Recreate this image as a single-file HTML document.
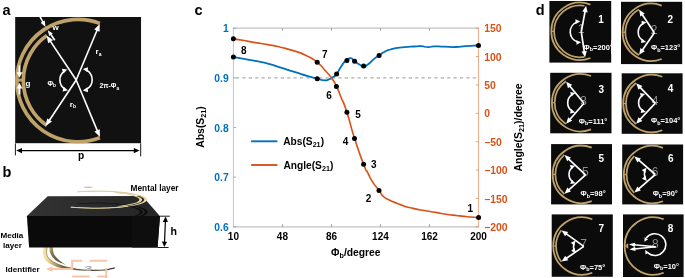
<!DOCTYPE html>
<html lang="en"><head><meta charset="utf-8"><title>Figure</title>
<style>html,body{margin:0;padding:0;background:#fff;}body{width:685px;height:278px;overflow:hidden;}svg{display:block;font-family:'Liberation Sans', sans-serif;}</style></head><body>
<svg width="685" height="278" viewBox="0 0 685 278">
<rect width="685" height="278" fill="#fff"/>
<defs>
<linearGradient id="gtop" x1="0" y1="0" x2="1" y2="0"><stop offset="0" stop-color="#333333"/><stop offset="0.5" stop-color="#2b2b2b"/><stop offset="1" stop-color="#262626"/></linearGradient>
<linearGradient id="gring" gradientUnits="userSpaceOnUse" x1="0" y1="-62" x2="0" y2="62"><stop offset="0" stop-color="#cbb57a"/><stop offset="0.5" stop-color="#e8d9a6"/><stop offset="1" stop-color="#efe3b6"/></linearGradient>
<linearGradient id="gring2" gradientUnits="userSpaceOnUse" x1="42" y1="0" x2="115" y2="0"><stop offset="0" stop-color="#f8e6ac"/><stop offset="0.07" stop-color="#f0da96"/><stop offset="0.15" stop-color="#c4b074"/><stop offset="0.3" stop-color="#6e623f"/><stop offset="1" stop-color="#3c3629"/></linearGradient>
<linearGradient id="gring3" gradientUnits="userSpaceOnUse" x1="49" y1="247" x2="64" y2="264"><stop offset="0" stop-color="#cbb984"/><stop offset="0.25" stop-color="#8a7a4e"/><stop offset="1" stop-color="#4a4129"/></linearGradient>
</defs>
<text x="2.6" y="14.8" font-size="14.5" text-anchor="start" fill="#000" font-weight="bold">a</text>
<text x="2.6" y="177" font-size="14.5" text-anchor="start" fill="#000" font-weight="bold">b</text>
<text x="194.5" y="14.9" font-size="14.5" text-anchor="start" fill="#000" font-weight="bold">c</text>
<text x="535.8" y="14.6" font-size="14.5" text-anchor="start" fill="#000" font-weight="bold">d</text>
<clipPath id="csq"><rect x="15.1" y="17" width="126.1" height="126.4"/></clipPath>
<g id="pa" clip-path="url(#csq)">
<rect x="15.1" y="17" width="126.1" height="126.4" fill="#111"/>
<path d="M99.83 23.38 A61.2 61.2 0 1 0 99.83 137.72" fill="none" stroke="#bfa269" stroke-width="3.7"/>
<path d="M46.86 35.58 A54.7 54.7 0 0 0 46.86 125.52" fill="none" stroke="#bfa269" stroke-width="3.7"/>
<rect x="16.5" y="78.6" width="7" height="3" fill="#bfa269"/>
<line x1="76.2" y1="80" x2="97.47" y2="29.31" stroke="#fff" stroke-width="1.6"/><polygon points="99.7,24 99.59,31.76 94.24,29.52" fill="#fff"/>
<line x1="76.2" y1="80" x2="97.69" y2="131.68" stroke="#fff" stroke-width="1.6"/><polygon points="99.9,137 94.46,131.47 99.81,129.24" fill="#fff"/>
<line x1="76.2" y1="80" x2="49.8" y2="40.39" stroke="#fff" stroke-width="1.6"/><polygon points="46.6,35.6 53.01,39.98 48.18,43.2" fill="#fff"/>
<line x1="76.2" y1="80" x2="48.79" y2="121.2" stroke="#fff" stroke-width="1.6"/><polygon points="45.6,126 47.17,118.4 52,121.61" fill="#fff"/>
<line x1="39.6" y1="15.8" x2="43.26" y2="22.75" stroke="#fff" stroke-width="1.6"/><polygon points="45.5,27 40.67,22.76 44.74,20.62" fill="#fff"/>
<line x1="54.8" y1="40.2" x2="50.32" y2="33.8" stroke="#fff" stroke-width="1.6"/><polygon points="47.8,30.2 52.76,33.44 49.15,35.97" fill="#fff"/>
<line x1="19.5" y1="65.5" x2="19.5" y2="73.32" stroke="#fff" stroke-width="1.9"/><polygon points="19.5,77.8 16.6,72.2 22.4,72.2" fill="#fff"/>
<line x1="19.5" y1="94.6" x2="19.5" y2="87.28" stroke="#fff" stroke-width="1.9"/><polygon points="19.5,82.8 22.4,88.4 16.6,88.4" fill="#fff"/>
<path d="M64.39 71.12 A10.84 10.84 0 0 0 64.91 89.05" fill="none" stroke="#fff" stroke-width="1.6"/><polygon points="67.4,69.6 63.41,73.52 61.87,68.76" fill="#fff"/><polygon points="68,90.4 62.53,91.56 63.79,86.72" fill="#fff"/>
<path d="M86.03 69.95 A10.79 10.79 0 0 1 86.03 89.45" fill="none" stroke="#fff" stroke-width="1.6"/><polygon points="82.8,69 88.08,67.16 87.44,72.12" fill="#fff"/><polygon points="82.8,90.4 87.44,87.28 88.08,92.24" fill="#fff"/>
<text x="52.4" y="30.3" font-size="8" text-anchor="start" fill="#fff" font-weight="bold">w</text>
<text x="25.6" y="85.9" font-size="8" text-anchor="start" fill="#fff" font-weight="bold">g</text>
<text x="47.4" y="85.8" font-size="6.8" text-anchor="start" fill="#fff" font-weight="bold">&#934;<tspan font-size="4.8" dy="1.6">b</tspan></text>
<text x="99.6" y="88.2" font-size="6.8" text-anchor="start" fill="#fff" font-weight="bold">2&#960;-&#934;<tspan font-size="4.8" dy="1.6">a</tspan></text>
<text x="95.6" y="54.2" font-size="8" text-anchor="start" fill="#fff" font-weight="bold">r<tspan font-size="5" dy="1.4">a</tspan></text>
<text x="69.8" y="106.6" font-size="8" text-anchor="start" fill="#fff" font-weight="bold">r<tspan font-size="5" dy="1.6">b</tspan></text>
</g>
<line x1="15.4" y1="143.4" x2="15.4" y2="155.4" stroke="#000" stroke-width="0.9"/>
<line x1="140.7" y1="143.4" x2="140.7" y2="156.4" stroke="#000" stroke-width="0.9"/>
<polygon points="16.2,150.6 22,153.3 22,147.9" fill="#000"/><line x1="20.84" y1="150.6" x2="134.96" y2="150.6" stroke="#000" stroke-width="1.2"/><polygon points="139.6,150.6 133.8,153.3 133.8,147.9" fill="#000"/>
<text x="78" y="159.4" font-size="10.2" text-anchor="start" fill="#000" font-weight="bold">p</text>
<g id="pb">
<path d="M43.6 246 C43.53 246.67 43.28 248.73 43.2 250 C43.12 251.27 42.83 252.12 43.1 253.6 C43.37 255.08 43.78 257.28 44.8 258.9 C45.82 260.52 47.02 261.92 49.2 263.3 C51.38 264.68 53.93 266.12 57.9 267.2 C61.87 268.28 67.65 269.18 73 269.8 C78.35 270.42 84.83 270.77 90 270.9 C95.17 271.03 99.85 271.02 104 270.6 C108.15 270.18 113.08 268.77 114.9 268.4 L114.6 267.2 C112.83 267.57 108.1 268.97 104 269.4 C99.9 269.83 94.67 269.9 90 269.8 C85.33 269.7 80.18 269.33 76 268.8 C71.82 268.27 68.65 267.73 64.9 266.6 C61.15 265.47 56.27 263.5 53.5 262 C50.73 260.5 49.45 259.13 48.3 257.6 C47.15 256.07 46.77 254.73 46.6 252.8 C46.43 250.87 47.18 247.13 47.3 246 Z" fill="url(#gring2)"/>
<path d="M76 268.8 C74.15 268.43 68.65 267.73 64.9 266.6 C61.15 265.47 56.27 263.5 53.5 262 C50.73 260.5 49.45 259.13 48.3 257.6 C47.15 256.07 46.77 254.73 46.6 252.8 C46.43 250.87 47.18 247.13 47.3 246" fill="none" stroke="#5a5033" stroke-width="0.6" opacity="0.85"/>
<path d="M49.2 246 C49.27 246.67 49.4 248.8 49.6 250 C49.8 251.2 49.87 251.97 50.4 253.2 C50.93 254.43 51.55 256 52.8 257.4 C54.05 258.8 55.73 260.37 57.9 261.6 C60.07 262.83 64.48 264.27 65.8 264.8 L65.8 264.8 C64.75 264.07 61.23 261.83 59.5 260.4 C57.77 258.97 56.42 257.53 55.4 256.2 C54.38 254.87 53.83 254.1 53.4 252.4 C52.97 250.7 52.9 247.07 52.8 246 Z" fill="url(#gring3)"/>
<g transform="translate(84.4 271.2) scale(1.75 1)"><text x="0" y="0" font-size="8" text-anchor="start" fill="#a8a8a8" font-weight="bold">3</text></g>
<polygon points="47.7,196.2 142.3,196.0 159.8,216.1 26.9,216.1" fill="url(#gtop)"/>
<polygon points="26.9,215.9 160.0,215.9 157.5,247.4 29.1,247.4" fill="#0a0a0a"/>
<polygon points="132,215.9 160.0,215.9 157.5,247.4 132,247.4" fill="#0e0e0e"/>
<clipPath id="ctop"><polygon points="47.7,196.2 142.3,196.0 159.8,216.1 26.9,216.1"/></clipPath>
<g clip-path="url(#ctop)"><g transform="translate(96.6 212) scale(0.82 0.15)"><path d="M-23.19 -55.99 A60.6 60.6 0 1 1 -30.76 52.21" fill="none" stroke="#0d0d0c" stroke-width="3.6"/><path d="M23.94 -49.07 A54.6 54.6 0 0 1 26.47 47.75" fill="none" stroke="#0d0d0c" stroke-width="3.4"/></g></g>
<g transform="translate(96 199.7) scale(0.82 0.14)"><path d="M-23.19 -55.99 A60.6 60.6 0 1 1 -30.76 52.21" fill="none" stroke="url(#gring)" stroke-width="3.6"/><path d="M23.94 -49.07 A54.6 54.6 0 0 1 26.47 47.75" fill="none" stroke="url(#gring)" stroke-width="3.4"/></g>
<path d="M77.2 191.9 C92 190.4 118 190.6 134 194.2" fill="none" stroke="#d9c892" stroke-width="0.7"/>
<path d="M70.8 207.2 C88 208.6 112 208.6 128 206.2" fill="none" stroke="#e6d7a4" stroke-width="0.9"/>
<ellipse cx="88.4" cy="187.2" rx="4.8" ry="0.8" fill="#b5b5b5" opacity="0.8"/>
<line x1="159.8" y1="216.2" x2="169.8" y2="216.2" stroke="#000" stroke-width="0.9"/>
<line x1="157.4" y1="247.5" x2="168.6" y2="247.5" stroke="#000" stroke-width="0.9"/>
<polygon points="165.6,216.6 162.77,221.88 167.97,222.11" fill="#000"/><line x1="165.42" y1="220.92" x2="164.48" y2="242.78" stroke="#000" stroke-width="1.2"/><polygon points="164.3,247.1 161.93,241.59 167.13,241.82" fill="#000"/>
<text x="170.6" y="235.4" font-size="10.6" text-anchor="start" fill="#000" font-weight="bold">h</text>
<text x="130.6" y="190.6" font-size="8.3" text-anchor="start" fill="#000" font-weight="bold">Mental layer</text>
<text x="0.4" y="238" font-size="8.1" text-anchor="start" fill="#000" font-weight="bold">Media</text>
<text x="3" y="247.8" font-size="8.1" text-anchor="start" fill="#000" font-weight="bold">layer</text>
<text x="5.6" y="271.6" font-size="8.1" text-anchor="start" fill="#000" font-weight="bold">Identifier</text>
<line x1="51" y1="269" x2="72.2" y2="269" stroke="#f8c6a8" stroke-width="1.9"/>
<polygon points="46,269 52.4,266.3 52.4,271.7" fill="#f8c6a8"/>
<path d="M72.2 269.8 V260.7 H82.4 M89.7 260.7 H107.2 M106.2 268.2 V278 M72.2 276.5 H89.7 M97.3 276.5 H106.2" fill="none" stroke="#f8c6a8" stroke-width="2"/>
</g>
<g id="pc">
<line x1="234" y1="77.85" x2="478.5" y2="77.85" stroke="#adadad" stroke-width="1.4" stroke-dasharray="3.2 3.2" stroke-dashoffset="-1.9"/>
<line x1="233.4" y1="28.2" x2="478.5" y2="28.2" stroke="#c2c2c2" stroke-width="1.3"/>
<line x1="233.4" y1="226.8" x2="478.5" y2="226.8" stroke="#c2c2c2" stroke-width="1.3"/>
<line x1="233.4" y1="27.7" x2="233.4" y2="227.3" stroke="#8fc1ea" stroke-width="0.8"/>
<line x1="478.5" y1="27.7" x2="478.5" y2="227.3" stroke="#eea583" stroke-width="0.9"/>
<text x="233.4" y="239.8" font-size="10" text-anchor="middle" fill="#000" font-weight="bold">10</text>
<line x1="282.42" y1="28.2" x2="282.42" y2="30.8" stroke="#8c8c8c" stroke-width="0.8"/>
<line x1="282.42" y1="226.8" x2="282.42" y2="224.2" stroke="#8c8c8c" stroke-width="0.8"/>
<text x="282.42" y="239.8" font-size="10" text-anchor="middle" fill="#000" font-weight="bold">48</text>
<line x1="331.44" y1="28.2" x2="331.44" y2="30.8" stroke="#8c8c8c" stroke-width="0.8"/>
<line x1="331.44" y1="226.8" x2="331.44" y2="224.2" stroke="#8c8c8c" stroke-width="0.8"/>
<text x="331.44" y="239.8" font-size="10" text-anchor="middle" fill="#000" font-weight="bold">86</text>
<line x1="380.46" y1="28.2" x2="380.46" y2="30.8" stroke="#8c8c8c" stroke-width="0.8"/>
<line x1="380.46" y1="226.8" x2="380.46" y2="224.2" stroke="#8c8c8c" stroke-width="0.8"/>
<text x="380.46" y="239.8" font-size="10" text-anchor="middle" fill="#000" font-weight="bold">124</text>
<line x1="429.48" y1="28.2" x2="429.48" y2="30.8" stroke="#8c8c8c" stroke-width="0.8"/>
<line x1="429.48" y1="226.8" x2="429.48" y2="224.2" stroke="#8c8c8c" stroke-width="0.8"/>
<text x="429.48" y="239.8" font-size="10" text-anchor="middle" fill="#000" font-weight="bold">162</text>
<text x="478.5" y="239.8" font-size="10" text-anchor="middle" fill="#000" font-weight="bold">200</text>
<line x1="233.4" y1="28.2" x2="236" y2="28.2" stroke="#5fa5dc" stroke-width="0.8"/>
<text x="228.7" y="32.3" font-size="10.3" text-anchor="end" fill="#0072bd" font-weight="bold">1</text>
<line x1="233.4" y1="77.85" x2="236" y2="77.85" stroke="#5fa5dc" stroke-width="0.8"/>
<text x="228.7" y="81.95" font-size="10.3" text-anchor="end" fill="#0072bd" font-weight="bold">0.9</text>
<line x1="233.4" y1="127.5" x2="236" y2="127.5" stroke="#5fa5dc" stroke-width="0.8"/>
<text x="228.7" y="131.6" font-size="10.3" text-anchor="end" fill="#0072bd" font-weight="bold">0.8</text>
<line x1="233.4" y1="177.15" x2="236" y2="177.15" stroke="#5fa5dc" stroke-width="0.8"/>
<text x="228.7" y="181.25" font-size="10.3" text-anchor="end" fill="#0072bd" font-weight="bold">0.7</text>
<line x1="233.4" y1="226.8" x2="236" y2="226.8" stroke="#5fa5dc" stroke-width="0.8"/>
<text x="228.7" y="230.9" font-size="10.3" text-anchor="end" fill="#0072bd" font-weight="bold">0.6</text>
<line x1="478.5" y1="28.2" x2="475.9" y2="28.2" stroke="#e58a62" stroke-width="0.8"/>
<text x="484.2" y="32.3" font-size="10.4" text-anchor="start" fill="#d95319" font-weight="bold">150</text>
<line x1="478.5" y1="56.57" x2="475.9" y2="56.57" stroke="#e58a62" stroke-width="0.8"/>
<text x="484.2" y="60.67" font-size="10.4" text-anchor="start" fill="#d95319" font-weight="bold">100</text>
<line x1="478.5" y1="84.94" x2="475.9" y2="84.94" stroke="#e58a62" stroke-width="0.8"/>
<text x="484.2" y="89.04" font-size="10.4" text-anchor="start" fill="#d95319" font-weight="bold">50</text>
<line x1="478.5" y1="113.31" x2="475.9" y2="113.31" stroke="#e58a62" stroke-width="0.8"/>
<text x="484.2" y="117.41" font-size="10.4" text-anchor="start" fill="#d95319" font-weight="bold">0</text>
<line x1="478.5" y1="141.69" x2="475.9" y2="141.69" stroke="#e58a62" stroke-width="0.8"/>
<text x="484.2" y="145.79" font-size="10.4" text-anchor="start" fill="#d95319" font-weight="bold">&#8722;50</text>
<line x1="478.5" y1="170.06" x2="475.9" y2="170.06" stroke="#e58a62" stroke-width="0.8"/>
<text x="484.2" y="174.16" font-size="10.4" text-anchor="start" fill="#d95319" font-weight="bold">&#8722;100</text>
<line x1="478.5" y1="198.43" x2="475.9" y2="198.43" stroke="#e58a62" stroke-width="0.8"/>
<text x="484.2" y="202.53" font-size="10.4" text-anchor="start" fill="#d95319" font-weight="bold">&#8722;150</text>
<line x1="478.5" y1="226.8" x2="475.9" y2="226.8" stroke="#e58a62" stroke-width="0.8"/>
<text x="484.2" y="230.9" font-size="10.4" text-anchor="start" fill="#d95319" font-weight="bold">&#8722;200</text>
<path d="M233.4 57.1 C236.47 57.63 235.33 57.43 242.6 58.7 C249.87 59.97 246.8 59.27 255.2 60.9 C263.6 62.53 258.67 61.17 267.8 63.6 C276.93 66.03 273.47 65.33 282.6 68.2 C291.73 71.07 286.8 69.53 295.2 72.2 C303.6 74.87 300.47 74.03 307.8 76.2 C315.13 78.37 312.17 77.37 317.2 78.7 C322.23 80.03 319.33 79.83 322.9 80.2 C326.47 80.57 324.53 80.83 327.9 79.8 C331.27 78.77 330.1 79.07 333 77.1 C335.9 75.13 334.1 77.07 336.6 73.9 C339.1 70.73 337.93 71.5 340.5 67.6 C343.07 63.7 342.17 64.57 344.3 62.2 C346.43 59.83 344.73 61.83 346.9 60.5 C349.07 59.17 348.23 57.97 350.8 58.2 C353.37 58.43 351.87 59.2 354.6 61.2 C357.33 63.2 356 62.57 359 64.2 C362 65.83 360.67 65.97 363.6 66.1 C366.53 66.23 364.3 67 367.8 64.6 C371.3 62.2 370.33 61.93 374.1 58.9 C377.87 55.87 375.73 57.8 379.1 55.5 C382.47 53.2 380.4 54 384.2 52 C388 50 385.47 50.97 390.5 49.5 C395.53 48.03 393.43 48.47 399.3 47.6 C405.17 46.73 402.53 47.3 408.1 46.9 C413.67 46.5 411.57 46.63 416 46.4 C420.43 46.17 417.3 45.93 421.4 46.2 C425.5 46.47 424.1 47.13 428.3 47.2 C432.5 47.27 428.77 46.57 434 46.4 C439.23 46.23 436.87 46.5 444 46.7 C451.13 46.9 448.23 47.17 455.4 47 C462.57 46.83 458.77 46.7 465.5 46.2 C472.23 45.7 471.3 45.77 475.6 45.5 C479.9 45.23 477.47 45.43 478.4 45.4" fill="none" stroke="#0072bd" stroke-width="1.8" stroke-linejoin="round"/>
<path d="M233.4 38.8 C236.47 39.3 235.33 39.03 242.6 40.3 C249.87 41.57 246.8 41.17 255.2 42.6 C263.6 44.03 259.4 43.07 267.8 44.6 C276.2 46.13 272 45.2 280.4 47.2 C288.8 49.2 284.6 47.9 293 50.6 C301.4 53.3 297.53 51.4 305.6 55.3 C313.67 59.2 310.6 57.13 317.2 62.3 C323.8 67.47 320.57 65.47 325.4 70.8 C330.23 76.13 327.97 73.03 331.7 78.3 C335.43 83.57 333.53 80.37 336.6 86.6 C339.67 92.83 337.47 88.47 340.9 97 C344.33 105.53 342.33 98.33 346.9 112.2 C351.47 126.07 349.03 121.27 354.6 138.6 C360.17 155.93 359.23 152.87 363.6 164.2 C367.97 175.53 364.67 166.63 367.7 172.6 C370.73 178.57 368.9 176.17 372.7 182.1 C376.5 188.03 375.57 185.63 379.1 190.4 C382.63 195.17 379.6 193.07 383.3 196.4 C387 199.73 384.53 197.67 390.2 200.4 C395.87 203.13 392.73 201.93 400.3 204.6 C407.87 207.27 404.5 206.33 412.9 208.4 C421.3 210.47 417.93 209.47 425.5 210.8 C433.07 212.13 428.77 211.27 435.6 212.4 C442.43 213.53 438.6 213.1 446 214.2 C453.4 215.3 449.67 214.77 457.8 215.7 C465.93 216.63 463.53 216.37 470.4 217 C477.27 217.63 475.73 217.4 478.4 217.6" fill="none" stroke="#d95319" stroke-width="1.65" stroke-linejoin="round"/>
<circle cx="233.4" cy="57.1" r="2.5" fill="#000"/>
<circle cx="317.2" cy="78.7" r="2.5" fill="#000"/>
<circle cx="336.6" cy="73.9" r="2.5" fill="#000"/>
<circle cx="346.9" cy="60.5" r="2.5" fill="#000"/>
<circle cx="354.6" cy="61.2" r="2.5" fill="#000"/>
<circle cx="363.6" cy="66.1" r="2.5" fill="#000"/>
<circle cx="379.1" cy="55.5" r="2.5" fill="#000"/>
<circle cx="478.5" cy="45.4" r="2.5" fill="#000"/>
<circle cx="233.4" cy="38.8" r="2.5" fill="#000"/>
<circle cx="317.2" cy="62.3" r="2.5" fill="#000"/>
<circle cx="336.4" cy="86.6" r="2.5" fill="#000"/>
<circle cx="346.9" cy="112.2" r="2.5" fill="#000"/>
<circle cx="354.5" cy="138.6" r="2.5" fill="#000"/>
<circle cx="363.6" cy="164.2" r="2.5" fill="#000"/>
<circle cx="379" cy="190.5" r="2.5" fill="#000"/>
<circle cx="478.6" cy="217.6" r="2.5" fill="#000"/>
<text x="241" y="54.1" font-size="10" text-anchor="start" fill="#000" font-weight="bold">8</text>
<text x="322" y="58.4" font-size="10" text-anchor="start" fill="#000" font-weight="bold">7</text>
<text x="326.2" y="99.4" font-size="10" text-anchor="start" fill="#000" font-weight="bold">6</text>
<text x="355.3" y="118.4" font-size="10" text-anchor="start" fill="#000" font-weight="bold">5</text>
<text x="342.7" y="145.3" font-size="10" text-anchor="start" fill="#000" font-weight="bold">4</text>
<text x="371" y="168.4" font-size="10" text-anchor="start" fill="#000" font-weight="bold">3</text>
<text x="365.8" y="202.2" font-size="10" text-anchor="start" fill="#000" font-weight="bold">2</text>
<text x="467.5" y="211.9" font-size="10" text-anchor="start" fill="#000" font-weight="bold">1</text>
<line x1="251.1" y1="141.3" x2="277.4" y2="141.3" stroke="#0072bd" stroke-width="1.9"/>
<line x1="251.1" y1="165.0" x2="277.4" y2="165.0" stroke="#d95319" stroke-width="1.9"/>
<text x="283.2" y="144.6" font-size="10.2" text-anchor="start" fill="#000" font-weight="bold">Abs(S<tspan font-size="7.2" dy="2">21</tspan><tspan dy="-2">)</tspan></text>
<text x="283.4" y="169.1" font-size="10.2" text-anchor="start" fill="#000" font-weight="bold">Angle(S<tspan font-size="7.2" dy="2">21</tspan><tspan dy="-2">)</tspan></text>
<text x="355.8" y="255.6" font-size="10.3" text-anchor="middle" fill="#000" font-weight="bold">&#934;<tspan font-size="7.2" dy="2">b</tspan><tspan dy="-2">/degree</tspan></text>
<text transform="translate(203.8 127.0) rotate(-90)" font-size="10.4" text-anchor="middle" font-weight="bold">Abs(S<tspan font-size="7.2" dy="2">21</tspan><tspan dy="-2">)</tspan></text>
<text transform="translate(522.3 127.4) rotate(-90)" font-size="10.45" text-anchor="middle" font-weight="bold">Angle(S<tspan font-size="7.2" dy="2">21</tspan><tspan dy="-2">)/degree</tspan></text>
</g>
<g id="pd">
<rect x="549.4" y="1" width="61.8" height="61.6" fill="#0b0b0b"/>
<path d="M590.43 4.56 A28.7 28.7 0 1 0 590.43 58.04" fill="none" stroke="#bfa269" stroke-width="1.75"/>
<path d="M584.51 5.74 A25.95 25.95 0 1 0 584.51 56.86" fill="none" stroke="#bfa269" stroke-width="1.75"/>
<rect x="551.1" y="30.65" width="3.15" height="1.3" fill="#bfa269"/>
<text x="581" y="33.1" font-size="12" text-anchor="middle" fill="#8e8e8e" font-weight="normal">1</text>
<line x1="581.3" y1="31.8" x2="585.2" y2="10.68" stroke="#fff" stroke-width="1.7"/><polygon points="586.1,5.8 587.63,12.39 582.32,11.41" fill="#fff"/>
<line x1="581.3" y1="31.8" x2="584.37" y2="52.39" stroke="#fff" stroke-width="1.7"/><polygon points="585.1,57.3 581.52,51.57 586.86,50.77" fill="#fff"/>
<path d="M577.12 22.1 A10.41 10.41 0 0 0 577.98 41.98" fill="none" stroke="#fff" stroke-width="1.6"/><polygon points="580.3,21.5 575.57,23.94 575.43,19.34" fill="#fff"/><polygon points="581.2,42.3 576.54,44.87 576.28,40.28" fill="#fff"/>
<text x="598.3" y="23" font-size="10" text-anchor="start" fill="#fff" font-weight="bold">1</text>
<text x="583.6" y="49.7" font-size="7.5" fill="#fff" font-weight="bold">&#934;<tspan font-size="5.4" dy="1.6">b</tspan><tspan dy="-1.6">=200&#176;</tspan></text>
<rect x="621" y="1.8" width="61.2" height="62.3" fill="#0b0b0b"/>
<path d="M661.73 5.56 A28.7 28.7 0 1 0 661.73 59.04" fill="none" stroke="#bfa269" stroke-width="1.75"/>
<path d="M638.92 9.49 A25.95 25.95 0 0 0 638.92 55.11" fill="none" stroke="#bfa269" stroke-width="1.75"/>
<rect x="622.4" y="31.65" width="3.15" height="1.3" fill="#bfa269"/>
<text x="654.1" y="34.1" font-size="12" text-anchor="middle" fill="#8e8e8e" font-weight="normal">2</text>
<line x1="654.4" y1="32.8" x2="641.86" y2="13.97" stroke="#fff" stroke-width="1.7"/><polygon points="639.11,9.85 644.79,13.51 640.3,16.5" fill="#fff"/>
<line x1="654.4" y1="32.8" x2="641.94" y2="50.68" stroke="#fff" stroke-width="1.7"/><polygon points="639.11,54.75 640.44,48.12 644.87,51.21" fill="#fff"/>
<path d="M643.45 23.26 A10.04 10.04 0 0 0 643.1 40.71" fill="none" stroke="#fff" stroke-width="1.6"/><polygon points="646.5,22.2 642.17,25.3 641.37,20.77" fill="#fff"/><polygon points="646.1,41.9 640.92,43.12 641.9,38.63" fill="#fff"/>
<text x="667.6" y="22.9" font-size="10" text-anchor="start" fill="#fff" font-weight="bold">2</text>
<text x="651" y="50" font-size="7.5" fill="#fff" font-weight="bold">&#934;<tspan font-size="5.4" dy="1.6">b</tspan><tspan dy="-1.6">=123&#176;</tspan></text>
<rect x="550.2" y="72.8" width="61.3" height="60.5" fill="#0b0b0b"/>
<path d="M591.03 75.96 A28.7 28.7 0 1 0 591.03 129.44" fill="none" stroke="#bfa269" stroke-width="1.75"/>
<path d="M565.9 81.31 A25.95 25.95 0 0 0 565.9 124.09" fill="none" stroke="#bfa269" stroke-width="1.75"/>
<rect x="551.7" y="102.05" width="3.15" height="1.3" fill="#bfa269"/>
<text x="583.7" y="104.5" font-size="12" text-anchor="middle" fill="#8e8e8e" font-weight="normal">3</text>
<line x1="584" y1="103.2" x2="569.29" y2="85.46" stroke="#fff" stroke-width="1.7"/><polygon points="566.13,81.64 572.16,84.69 568.01,88.14" fill="#fff"/>
<line x1="584" y1="103.2" x2="569.38" y2="120.01" stroke="#fff" stroke-width="1.7"/><polygon points="566.13,123.76 568.16,117.31 572.23,120.85" fill="#fff"/>
<path d="M572.42 94.32 A9.93 9.93 0 0 0 572.24 111.11" fill="none" stroke="#fff" stroke-width="1.6"/><polygon points="575.4,93.1 571.24,96.42 570.21,91.94" fill="#fff"/><polygon points="575.2,112.4 569.98,113.46 571.11,109" fill="#fff"/>
<text x="598.6" y="92.6" font-size="10" text-anchor="start" fill="#fff" font-weight="bold">3</text>
<text x="578.8" y="123.6" font-size="7.5" fill="#fff" font-weight="bold">&#934;<tspan font-size="5.4" dy="1.6">b</tspan><tspan dy="-1.6">=111&#176;</tspan></text>
<rect x="621.7" y="73.3" width="60.9" height="60.5" fill="#0b0b0b"/>
<path d="M662.33 76.76 A28.7 28.7 0 1 0 662.33 130.24" fill="none" stroke="#bfa269" stroke-width="1.75"/>
<path d="M635.92 83.05 A25.95 25.95 0 0 0 635.92 123.95" fill="none" stroke="#bfa269" stroke-width="1.75"/>
<rect x="623" y="102.85" width="3.15" height="1.3" fill="#bfa269"/>
<text x="655" y="104.5" font-size="12" text-anchor="middle" fill="#8e8e8e" font-weight="normal">4</text>
<line x1="655.3" y1="103.2" x2="639.61" y2="86.94" stroke="#fff" stroke-width="1.7"/><polygon points="636.17,83.37 642.42,85.95 638.53,89.7" fill="#fff"/>
<line x1="655.3" y1="103.2" x2="639.56" y2="120.01" stroke="#fff" stroke-width="1.7"/><polygon points="636.17,123.63 638.44,117.26 642.38,120.95" fill="#fff"/>
<path d="M642.34 95.35 A9.31 9.31 0 0 0 642.93 110.68" fill="none" stroke="#fff" stroke-width="1.6"/><polygon points="645.2,93.9 641.28,97.5 639.94,93.1" fill="#fff"/><polygon points="645.9,111.9 640.72,113.11 641.71,108.62" fill="#fff"/>
<text x="667.8" y="92.4" font-size="10" text-anchor="start" fill="#fff" font-weight="bold">4</text>
<text x="651" y="123.4" font-size="7.5" fill="#fff" font-weight="bold">&#934;<tspan font-size="5.4" dy="1.6">b</tspan><tspan dy="-1.6">=104&#176;</tspan></text>
<rect x="551.1" y="144.1" width="60.9" height="60.3" fill="#0b0b0b"/>
<path d="M591.73 147.66 A28.7 28.7 0 1 0 591.73 201.14" fill="none" stroke="#bfa269" stroke-width="1.75"/>
<path d="M564.28 154.82 A25.95 25.95 0 0 0 564.28 193.98" fill="none" stroke="#bfa269" stroke-width="1.75"/>
<rect x="552.4" y="173.75" width="3.15" height="1.3" fill="#bfa269"/>
<text x="585.3" y="176.2" font-size="12" text-anchor="middle" fill="#8e8e8e" font-weight="normal">5</text>
<line x1="585.6" y1="174.9" x2="568.15" y2="158.51" stroke="#fff" stroke-width="1.7"/><polygon points="564.54,155.12 570.91,157.39 567.21,161.33" fill="#fff"/>
<line x1="585.6" y1="174.9" x2="568.24" y2="190.38" stroke="#fff" stroke-width="1.7"/><polygon points="564.54,193.68 567.37,187.54 570.96,191.57" fill="#fff"/>
<path d="M572.4 167.25 A9.18 9.18 0 0 0 572.73 181.78" fill="none" stroke="#fff" stroke-width="1.6"/><polygon points="575.2,165.7 571.41,169.43 569.91,165.08" fill="#fff"/><polygon points="575.6,183.2 570.35,184.06 571.64,179.64" fill="#fff"/>
<text x="598.6" y="162.4" font-size="10" text-anchor="start" fill="#fff" font-weight="bold">5</text>
<text x="580.5" y="196.3" font-size="7.5" fill="#fff" font-weight="bold">&#934;<tspan font-size="5.4" dy="1.6">b</tspan><tspan dy="-1.6">=98&#176;</tspan></text>
<rect x="622.2" y="144.5" width="60.9" height="59.9" fill="#0b0b0b"/>
<path d="M662.93 147.81 A28.7 28.7 0 1 0 662.93 201.29" fill="none" stroke="#bfa269" stroke-width="1.75"/>
<path d="M634.15 156.2 A25.95 25.95 0 0 0 634.15 192.9" fill="none" stroke="#bfa269" stroke-width="1.75"/>
<rect x="623.6" y="173.9" width="3.15" height="1.3" fill="#bfa269"/>
<text x="655" y="175.8" font-size="12" text-anchor="middle" fill="#8e8e8e" font-weight="normal">6</text>
<line x1="655.3" y1="174.5" x2="638.19" y2="159.72" stroke="#fff" stroke-width="1.7"/><polygon points="634.43,156.48 640.89,158.49 637.36,162.58" fill="#fff"/>
<line x1="655.3" y1="174.5" x2="638.18" y2="189.36" stroke="#fff" stroke-width="1.7"/><polygon points="634.43,192.62 637.35,186.51 640.89,190.59" fill="#fff"/>
<path d="M644.92 170.52 A10.29 10.29 0 0 0 645.16 178.18" fill="none" stroke="#fff" stroke-width="1.6"/><polygon points="646.5,167.7 645.34,172.89 641.72,170.05" fill="#fff"/><polygon points="646.9,180.9 641.99,178.84 645.43,175.79" fill="#fff"/>
<text x="668" y="162.1" font-size="10" text-anchor="start" fill="#fff" font-weight="bold">6</text>
<text x="652.7" y="196.3" font-size="7.5" fill="#fff" font-weight="bold">&#934;<tspan font-size="5.4" dy="1.6">b</tspan><tspan dy="-1.6">=90&#176;</tspan></text>
<rect x="551.7" y="214.4" width="61.1" height="62.4" fill="#0b0b0b"/>
<path d="M592.33 219.26 A28.7 28.7 0 1 0 592.33 272.74" fill="none" stroke="#bfa269" stroke-width="1.75"/>
<path d="M561.31 230.2 A25.95 25.95 0 0 0 561.31 261.8" fill="none" stroke="#bfa269" stroke-width="1.75"/>
<rect x="553" y="245.35" width="3.15" height="1.3" fill="#bfa269"/>
<text x="583.5" y="247.7" font-size="12" text-anchor="middle" fill="#8e8e8e" font-weight="normal">7</text>
<line x1="583.8" y1="246.4" x2="565.66" y2="233.34" stroke="#fff" stroke-width="1.7"/><polygon points="561.63,230.45 568.24,231.88 565.09,236.26" fill="#fff"/>
<line x1="583.8" y1="246.4" x2="565.72" y2="258.75" stroke="#fff" stroke-width="1.7"/><polygon points="561.63,261.55 565.22,255.83 568.27,260.28" fill="#fff"/>
<path d="M574.02 243.39 A9.24 9.24 0 0 0 574.3 250.24" fill="none" stroke="#fff" stroke-width="1.6"/><polygon points="575.6,240.6 574.33,245.77 570.78,242.85" fill="#fff"/><polygon points="576.1,252.9 571.11,251.05 574.41,247.85" fill="#fff"/>
<text x="598.6" y="231.6" font-size="10" text-anchor="start" fill="#fff" font-weight="bold">7</text>
<text x="580.1" y="269.6" font-size="7.5" fill="#fff" font-weight="bold">&#934;<tspan font-size="5.4" dy="1.6">b</tspan><tspan dy="-1.6">=75&#176;</tspan></text>
<rect x="623" y="214.4" width="60.6" height="62.6" fill="#0b0b0b"/>
<path d="M663.73 219.26 A28.7 28.7 0 1 0 663.73 272.74" fill="none" stroke="#bfa269" stroke-width="1.75"/>
<path d="M627.45 243.74 A25.95 25.95 0 0 0 627.45 248.26" fill="none" stroke="#bfa269" stroke-width="1.75"/>
<rect x="624.4" y="245.35" width="3.15" height="1.3" fill="#bfa269"/>
<text x="655.4" y="248.1" font-size="12" text-anchor="middle" fill="#8e8e8e" font-weight="normal">8</text>
<line x1="655.7" y1="246.8" x2="633.78" y2="244.75" stroke="#fff" stroke-width="1.6"/><polygon points="629,244.3 635.18,242.67 634.77,247.05" fill="#fff"/>
<line x1="655.7" y1="246.8" x2="634.17" y2="249.01" stroke="#fff" stroke-width="1.6"/><polygon points="629.4,249.5 635.14,246.7 635.59,251.08" fill="#fff"/>
<path d="M646.23 237.99 A10.9 10.9 0 1 1 647.85 252.91" fill="none" stroke="#fff" stroke-width="1.6"/>
<polygon points="644.4,241.8 644.58,237.33 648.08,239.26" fill="#fff"/>
<polygon points="645.2,250 648.97,252.4 645.54,254.46" fill="#fff"/>
<text x="667.8" y="232.1" font-size="10" text-anchor="start" fill="#fff" font-weight="bold">8</text>
<text x="653.8" y="268.5" font-size="7.5" fill="#fff" font-weight="bold">&#934;<tspan font-size="5.4" dy="1.6">b</tspan><tspan dy="-1.6">=10&#176;</tspan></text>
</g>
<rect x="611.2" y="40" width="9.8" height="14" fill="#fff"/>
</svg></body></html>
